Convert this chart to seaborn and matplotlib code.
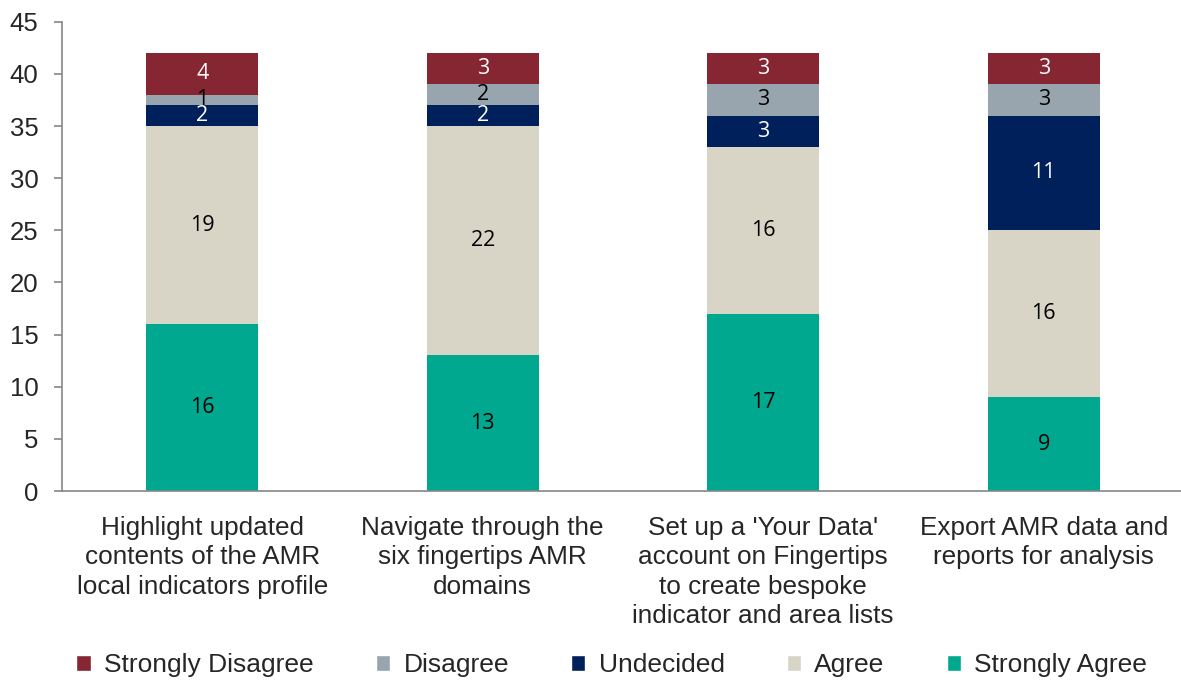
import numpy as np
import pandas as pd
import matplotlib.pyplot as plt
import seaborn as sns
from matplotlib.patches import Patch

sns.set_style('white')
plt.rcParams['font.family'] = ['Liberation Sans', 'DejaVu Sans']

categories = [
    "Highlight updated\ncontents of the AMR\nlocal indicators profile",
    "Navigate through the\nsix fingertips AMR\ndomains",
    "Set up a 'Your Data'\naccount on Fingertips\nto create bespoke\nindicator and area lists",
    "Export AMR data and\nreports for analysis",
]
# stacked bottom -> top
responses = ['Strongly Agree', 'Agree', 'Undecided', 'Disagree', 'Strongly Disagree']
strongly_agree = [16, 13, 17, 9]
agree = [19, 22, 16, 16]
undecided = [2, 2, 3, 11]
disagree = [1, 2, 3, 3]
strongly_disagree = [4, 3, 3, 3]

colors = {
    'Strongly Agree': '#00A88F',
    'Agree': '#D8D5C7',
    'Undecided': '#00205C',
    'Disagree': '#98A4AE',
    'Strongly Disagree': '#862633',
}
label_colors = {
    'Strongly Agree': 'black',
    'Agree': 'black',
    'Undecided': 'white',
    'Disagree': 'black',
    'Strongly Disagree': 'white',
}

values = pd.DataFrame(
    [strongly_agree, agree, undecided, disagree, strongly_disagree],
    index=responses, columns=categories,
)
cum = values.cumsum()

fig = plt.figure(figsize=(11.81, 6.81), dpi=100)
ax = fig.add_axes([0.0525, 0.279, 0.95, 0.689])

# draw tallest cumulative layer first so lower layers sit on top
for resp in reversed(responses):
    df = pd.DataFrame({'cat': categories, 'top': cum.loc[resp].values})
    sns.barplot(data=df, x='cat', y='top', color=colors[resp], width=0.4,
                saturation=1, ax=ax, order=categories, linewidth=0)

for i, cat in enumerate(categories):
    for resp in responses:
        v = values.loc[resp, cat]
        y = cum.loc[resp, cat] - v / 2
        ax.text(i, y, str(v), ha='center', va='center', fontsize=15.5,
                color=label_colors[resp], family=['Open Sans', 'DejaVu Sans'])

ax.set_ylim(0, 45)
ax.set_xlim(-0.5, 3.5)
ax.set_yticks(range(0, 46, 5))
ax.set_xlabel('')
ax.set_ylabel('')

spine_color = '#868686'
for s in ['top', 'right']:
    ax.spines[s].set_visible(False)
for s in ['left', 'bottom']:
    ax.spines[s].set_color(spine_color)
    ax.spines[s].set_linewidth(1.2)

ax.set_xticks(range(len(categories)))
ax.set_xticklabels(categories, fontsize=18.8, linespacing=1.28)
ax.set_xticks([-0.5, 0.5, 1.5, 2.5, 3.5], minor=True)
ax.tick_params(axis='x', which='major', length=0, pad=18)
ax.tick_params(axis='x', which='minor', length=6, color=spine_color, width=1.2,
               direction='out')
ax.tick_params(axis='y', labelsize=18.5, length=6, color=spine_color, width=1.2,
               direction='out', left=True, pad=11)

handles = [Patch(facecolor=colors[r], label=r) for r in reversed(responses)]
fig.legend(handles=handles, loc='center', bbox_to_anchor=(0.518, 0.023), ncol=5,
           frameon=False, fontsize=19, handlelength=0.55, handleheight=0.55,
           columnspacing=2.35, handletextpad=0.5)

fig.savefig('out.png', dpi=100)
